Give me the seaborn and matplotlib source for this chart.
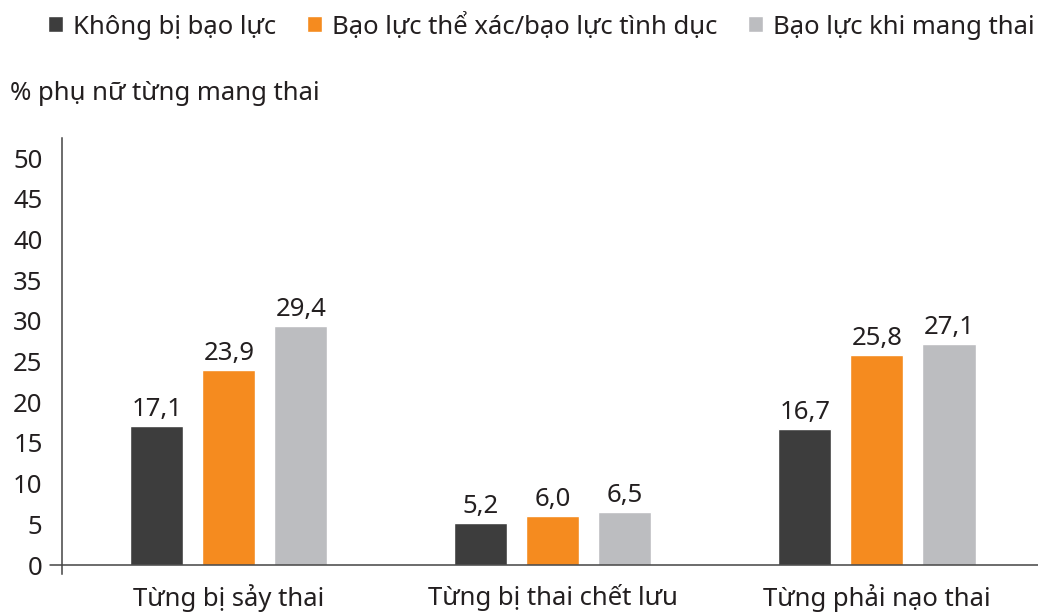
import numpy as np
import pandas as pd
import matplotlib.pyplot as plt
import seaborn as sns

categories = ['Từng bị sảy thai', 'Từng bị thai chết lưu', 'Từng phải nạo thai']
groups = ['Không bị bạo lực', 'Bạo lực thể xác/bạo lực tình dục', 'Bạo lực khi mang thai']
no_violence = [17.1, 5.2, 16.7]
physical_sexual = [23.9, 6.0, 25.8]
during_pregnancy = [29.4, 6.5, 27.1]
colors = ['#3d3d3d', '#f58b1f', '#bcbdc0']
yticks = [0, 5, 10, 15, 20, 25, 30, 35, 40, 45, 50]

rows = []
for g, vals in zip(groups, [no_violence, physical_sexual, during_pregnancy]):
    for c, v in zip(categories, vals):
        rows.append({'cat': c, 'group': g, 'value': v})
data = pd.DataFrame(rows)

sns.set_style('white')
plt.rcParams['font.family'] = ['Noto Sans', 'DejaVu Sans']
plt.rcParams['text.color'] = '#231f20'
fs = 18.5

fig = plt.figure(figsize=(10.38, 6.13), dpi=100)
ax = fig.add_axes([62 / 1038, 39 / 613, 976 / 1038, 436 / 613])

sns.barplot(data=data, x='cat', y='value', hue='group', palette=colors,
            width=0.667, gap=0.264, saturation=1, errorbar=None, ax=ax)

for cont in ax.containers:
    ax.bar_label(cont, labels=[f'{v:.1f}'.replace('.', ',') for v in cont.datavalues],
                 padding=3, fontsize=fs, color='#231f20')

ax.set_ylim(-1.1, 52.46)
ax.set_xlim(-0.515, 2.497)
ax.set_yticks(yticks)
ax.set_xlabel('')
ax.set_ylabel('')
ax.tick_params(axis='y', length=0, pad=14, labelsize=fs, labelcolor='#231f20')
ax.tick_params(axis='x', length=0, pad=7, labelsize=fs, labelcolor='#231f20')
for s in ['top', 'right', 'bottom']:
    ax.spines[s].set_visible(False)
ax.spines['left'].set_color('#444444')
ax.spines['left'].set_linewidth(1.1)
ax.axhline(0, xmin=-12 / 976, xmax=1, color='#444444', lw=1.1, clip_on=False, zorder=5)

handles, labels = ax.get_legend_handles_labels()
ax.legend(handles, labels, ncol=3, frameon=False, fontsize=fs,
          loc='center left', bbox_to_anchor=(48 / 1038, 1 - 26 / 613),
          bbox_transform=fig.transFigure, handlelength=0.58, handleheight=0.58,
          handletextpad=0.39, columnspacing=1.2, borderpad=0, borderaxespad=0)

fig.text(10 / 1038, 1 - 94 / 613, '% phụ nữ từng mang thai', fontsize=fs,
         va='center', ha='left', color='#231f20')

fig.savefig('out.png', dpi=100)
